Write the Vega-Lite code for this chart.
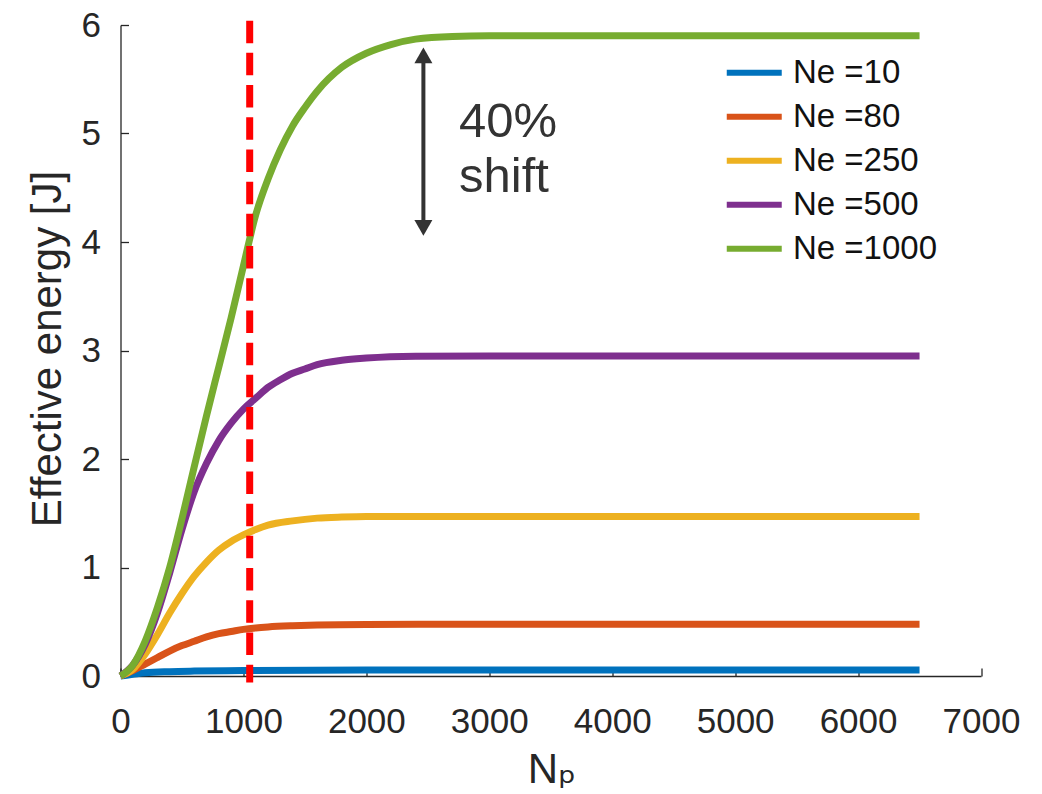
{
  "$schema": "https://vega.github.io/schema/vega-lite/v6.json",
  "autosize": {"type": "none"},
  "padding": {"left": 120.5, "top": 25, "right": 61, "bottom": 118},
  "width": 860.5,
  "height": 651,
  "background": "white",
  "datasets": {
    "curves": [
      {"Np": 0, "E": 0, "series": "Ne =10"},
      {"Np": 100, "E": 0.015, "series": "Ne =10"},
      {"Np": 200, "E": 0.03, "series": "Ne =10"},
      {"Np": 400, "E": 0.04, "series": "Ne =10"},
      {"Np": 600, "E": 0.045, "series": "Ne =10"},
      {"Np": 1000, "E": 0.05, "series": "Ne =10"},
      {"Np": 2000, "E": 0.055, "series": "Ne =10"},
      {"Np": 4000, "E": 0.055, "series": "Ne =10"},
      {"Np": 6500, "E": 0.055, "series": "Ne =10"},

      {"Np": 0, "E": 0, "series": "Ne =80"},
      {"Np": 100, "E": 0.05, "series": "Ne =80"},
      {"Np": 200, "E": 0.11, "series": "Ne =80"},
      {"Np": 300, "E": 0.17, "series": "Ne =80"},
      {"Np": 400, "E": 0.23, "series": "Ne =80"},
      {"Np": 500, "E": 0.28, "series": "Ne =80"},
      {"Np": 600, "E": 0.32, "series": "Ne =80"},
      {"Np": 700, "E": 0.36, "series": "Ne =80"},
      {"Np": 800, "E": 0.39, "series": "Ne =80"},
      {"Np": 900, "E": 0.41, "series": "Ne =80"},
      {"Np": 1000, "E": 0.43, "series": "Ne =80"},
      {"Np": 1100, "E": 0.443, "series": "Ne =80"},
      {"Np": 1200, "E": 0.452, "series": "Ne =80"},
      {"Np": 1400, "E": 0.463, "series": "Ne =80"},
      {"Np": 1600, "E": 0.47, "series": "Ne =80"},
      {"Np": 2000, "E": 0.475, "series": "Ne =80"},
      {"Np": 3000, "E": 0.477, "series": "Ne =80"},
      {"Np": 6500, "E": 0.477, "series": "Ne =80"},

      {"Np": 0, "E": 0, "series": "Ne =250"},
      {"Np": 100, "E": 0.06, "series": "Ne =250"},
      {"Np": 200, "E": 0.2, "series": "Ne =250"},
      {"Np": 300, "E": 0.38, "series": "Ne =250"},
      {"Np": 400, "E": 0.58, "series": "Ne =250"},
      {"Np": 500, "E": 0.76, "series": "Ne =250"},
      {"Np": 600, "E": 0.92, "series": "Ne =250"},
      {"Np": 700, "E": 1.05, "series": "Ne =250"},
      {"Np": 800, "E": 1.16, "series": "Ne =250"},
      {"Np": 900, "E": 1.24, "series": "Ne =250"},
      {"Np": 1000, "E": 1.3, "series": "Ne =250"},
      {"Np": 1100, "E": 1.35, "series": "Ne =250"},
      {"Np": 1200, "E": 1.39, "series": "Ne =250"},
      {"Np": 1400, "E": 1.43, "series": "Ne =250"},
      {"Np": 1600, "E": 1.455, "series": "Ne =250"},
      {"Np": 1800, "E": 1.465, "series": "Ne =250"},
      {"Np": 2000, "E": 1.47, "series": "Ne =250"},
      {"Np": 3000, "E": 1.47, "series": "Ne =250"},
      {"Np": 6500, "E": 1.47, "series": "Ne =250"},

      {"Np": 0, "E": 0, "series": "Ne =500"},
      {"Np": 100, "E": 0.1, "series": "Ne =500"},
      {"Np": 200, "E": 0.29, "series": "Ne =500"},
      {"Np": 300, "E": 0.58, "series": "Ne =500"},
      {"Np": 400, "E": 0.95, "series": "Ne =500"},
      {"Np": 500, "E": 1.35, "series": "Ne =500"},
      {"Np": 600, "E": 1.7, "series": "Ne =500"},
      {"Np": 700, "E": 1.96, "series": "Ne =500"},
      {"Np": 800, "E": 2.17, "series": "Ne =500"},
      {"Np": 900, "E": 2.33, "series": "Ne =500"},
      {"Np": 1000, "E": 2.46, "series": "Ne =500"},
      {"Np": 1100, "E": 2.56, "series": "Ne =500"},
      {"Np": 1200, "E": 2.66, "series": "Ne =500"},
      {"Np": 1300, "E": 2.73, "series": "Ne =500"},
      {"Np": 1400, "E": 2.79, "series": "Ne =500"},
      {"Np": 1500, "E": 2.83, "series": "Ne =500"},
      {"Np": 1600, "E": 2.87, "series": "Ne =500"},
      {"Np": 1800, "E": 2.91, "series": "Ne =500"},
      {"Np": 2000, "E": 2.93, "series": "Ne =500"},
      {"Np": 2400, "E": 2.947, "series": "Ne =500"},
      {"Np": 3000, "E": 2.95, "series": "Ne =500"},
      {"Np": 6500, "E": 2.95, "series": "Ne =500"},

      {"Np": 0, "E": 0, "series": "Ne =1000"},
      {"Np": 100, "E": 0.1, "series": "Ne =1000"},
      {"Np": 200, "E": 0.32, "series": "Ne =1000"},
      {"Np": 300, "E": 0.63, "series": "Ne =1000"},
      {"Np": 400, "E": 1.0, "series": "Ne =1000"},
      {"Np": 500, "E": 1.45, "series": "Ne =1000"},
      {"Np": 600, "E": 1.93, "series": "Ne =1000"},
      {"Np": 700, "E": 2.4, "series": "Ne =1000"},
      {"Np": 800, "E": 2.85, "series": "Ne =1000"},
      {"Np": 900, "E": 3.3, "series": "Ne =1000"},
      {"Np": 1000, "E": 3.78, "series": "Ne =1000"},
      {"Np": 1100, "E": 4.25, "series": "Ne =1000"},
      {"Np": 1200, "E": 4.58, "series": "Ne =1000"},
      {"Np": 1300, "E": 4.85, "series": "Ne =1000"},
      {"Np": 1400, "E": 5.07, "series": "Ne =1000"},
      {"Np": 1500, "E": 5.24, "series": "Ne =1000"},
      {"Np": 1600, "E": 5.39, "series": "Ne =1000"},
      {"Np": 1800, "E": 5.61, "series": "Ne =1000"},
      {"Np": 2000, "E": 5.74, "series": "Ne =1000"},
      {"Np": 2200, "E": 5.82, "series": "Ne =1000"},
      {"Np": 2400, "E": 5.87, "series": "Ne =1000"},
      {"Np": 2700, "E": 5.895, "series": "Ne =1000"},
      {"Np": 3000, "E": 5.9, "series": "Ne =1000"},
      {"Np": 6500, "E": 5.9, "series": "Ne =1000"}
    ],
    "marker": [{"Np": 1051, "top": 6.04, "bottom": -0.06}],
    "arrow": [{"Np": 2464, "lo": 4.13, "hi": 5.72}],
    "notes": [
      {"Np": 2754, "E": 4.97, "text": "40%"},
      {"Np": 2754, "E": 4.46, "text": "shift"}
    ]
  },
  "layer": [
    {
      "data": {"name": "curves"},
      "mark": {"type": "line", "strokeWidth": 7, "strokeCap": "butt", "strokeJoin": "round", "interpolate": "monotone"},
      "encoding": {
        "x": {
          "field": "Np", "type": "quantitative",
          "scale": {"domain": [0, 7000], "nice": false, "zero": false},
          "axis": {
            "values": [0, 1000, 2000, 3000, 4000, 5000, 6000, 7000],
            "format": "d",
            "labelFlush": false,
            "labelOverlap": false,
            "labelPadding": 36,
            "title": "Nₚ",
            "titleX": 431,
            "titleY": 106,
            "titleBaseline": "alphabetic"
          }
        },
        "y": {
          "field": "E", "type": "quantitative",
          "scale": {"domain": [0, 6], "nice": false},
          "axis": {
            "values": [0, 1, 2, 3, 4, 5, 6],
            "format": "d",
            "labelFlush": false,
            "labelOverlap": false,
            "labelPadding": 28,
            "title": "Effective energy [J]",
            "titleX": -60,
            "titleY": 323.5,
            "titleBaseline": "alphabetic"
          }
        },
        "color": {
          "field": "series", "type": "nominal",
          "scale": {
            "domain": ["Ne =10", "Ne =80", "Ne =250", "Ne =500", "Ne =1000"],
            "range": ["#0072BD", "#D95319", "#EDB120", "#7E2F8E", "#77AC30"]
          },
          "legend": {
            "orient": "none",
            "legendX": 616.75,
            "legendY": 30.8,
            "title": null,
            "symbolType": "M-2,0H2",
            "symbolSize": 756,
            "symbolStrokeWidth": 6,
            "symbolFillColor": "transparent",
            "labelFontSize": 33,
            "labelFont": "Liberation Sans",
            "labelColor": "#111111",
            "labelOffset": 21.75,
            "rowPadding": 10,
            "padding": 0
          }
        }
      }
    },
    {
      "data": {"name": "marker"},
      "mark": {"type": "rule", "color": "#FF0000", "strokeWidth": 7, "strokeDash": [22.5, 9.7], "strokeCap": "butt"},
      "encoding": {
        "x": {"field": "Np", "type": "quantitative"},
        "y": {"field": "top", "type": "quantitative"},
        "y2": {"field": "bottom"}
      }
    },
    {
      "data": {"name": "arrow"},
      "mark": {"type": "rule", "color": "#333333", "strokeWidth": 4},
      "encoding": {
        "x": {"field": "Np", "type": "quantitative"},
        "y": {"field": "hi", "type": "quantitative"},
        "y2": {"field": "lo"}
      }
    },
    {
      "data": {"name": "arrow"},
      "mark": {"type": "point", "shape": "triangle-up", "filled": true, "color": "#333333", "size": 324, "opacity": 1},
      "encoding": {
        "x": {"field": "Np", "type": "quantitative"},
        "y": {"field": "hi", "type": "quantitative"}
      }
    },
    {
      "data": {"name": "arrow"},
      "mark": {"type": "point", "shape": "triangle-down", "filled": true, "color": "#333333", "size": 324, "opacity": 1},
      "encoding": {
        "x": {"field": "Np", "type": "quantitative"},
        "y": {"field": "lo", "type": "quantitative"}
      }
    },
    {
      "data": {"name": "notes"},
      "mark": {"type": "text", "align": "left", "baseline": "alphabetic", "font": "Liberation Sans", "fontSize": 49, "color": "#333333"},
      "encoding": {
        "x": {"field": "Np", "type": "quantitative"},
        "y": {"field": "E", "type": "quantitative"},
        "text": {"field": "text"}
      }
    }
  ],
  "config": {
    "view": {"stroke": null},
    "axis": {
      "grid": false,
      "domainColor": "#262626",
      "domainWidth": 1.3,
      "tickColor": "#262626",
      "tickWidth": 1.3,
      "tickSize": -8,
      "labelFont": "Liberation Sans",
      "labelFontSize": 35,
      "labelColor": "#262626",
      "titleFont": "Liberation Sans, DejaVu Sans",
      "titleFontSize": 42,
      "titleFontWeight": "normal",
      "titleColor": "#262626"
    }
  }
}
